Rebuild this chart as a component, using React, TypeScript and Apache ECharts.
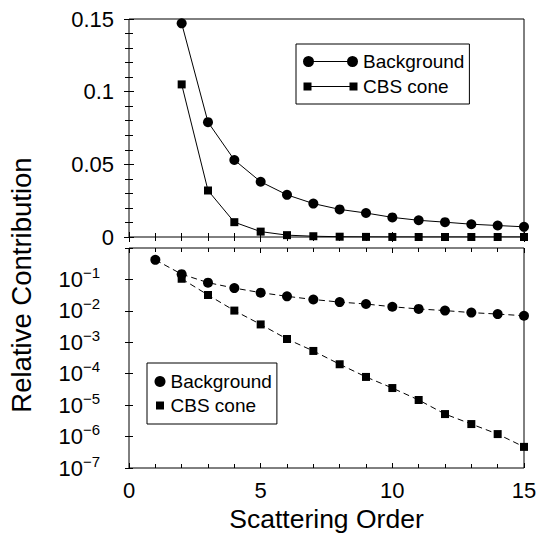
import React, { useEffect, useRef } from "react";
import * as echarts from "echarts";

const FONT = '"Liberation Sans", Arial, Helvetica, sans-serif';

// Scattering order (x values)
const orders = [1, 2, 3, 4, 5, 6, 7, 8, 9, 10, 11, 12, 13, 14, 15];
// Relative contribution of the background
const background = [0.42, 0.147, 0.079, 0.053, 0.038, 0.029, 0.023, 0.019, 0.0165, 0.0135, 0.0115, 0.0102, 0.0088, 0.0079, 0.007];
// Relative contribution of the CBS cone (no value at order 1)
const cbsCone = [null, 0.105, 0.032, 0.0102, 0.0037, 0.00127, 0.00053, 0.0002, 0.000079, 0.000035, 0.0000146, 0.0000052, 0.0000025, 0.0000012, 0.00000047];
// First order shown in the linear (upper) panel
const linearFirstOrder = 2;
// Tick labels
const xTickLabels = ["0", "5", "10", "15"];
const seriesNames = ["Background", "CBS cone"];

const ICON_BG_LINE =
  "path://M0,5.5A5.5,5.5 0 1 1 11,5.5A5.5,5.5 0 1 1 0,5.5Z M44,5.5A5.5,5.5 0 1 1 55,5.5A5.5,5.5 0 1 1 44,5.5Z M5.5,5H49.5V6H5.5Z";
const ICON_CBS_LINE =
  "path://M0,0M55,11M0.5,1.5H8.5V9.5H0.5Z M46.5,1.5H54.5V9.5H46.5Z M8.5,5H46.5V6H8.5Z";
const ICON_SQUARE = "path://M0,0M11,11M1.5,1.5H9.5V9.5H1.5Z";

function pairs(values: (number | null)[], fromOrder: number) {
  const out: [number, number][] = [];
  orders.forEach((x, i) => {
    const v = values[i];
    if (v != null && x >= fromOrder) out.push([x, v]);
  });
  return out;
}

export default function App() {
  const ref = useRef<HTMLDivElement>(null);
  useEffect(() => {
    document.body.style.margin = "0";
    if (!ref.current) return;
    const chart = echarts.init(ref.current, null, { renderer: "svg" });

    const tickCommon = { inside: true, length: 5, lineStyle: { color: "#000", width: 1 } };
    const minorCommon = { show: true, splitNumber: 5, length: 4, lineStyle: { color: "#000", width: 1 } };

    const xBase = (gridIndex: number, position: "bottom" | "top", labels: boolean) => ({
      type: "value",
      gridIndex,
      position,
      min: 0,
      max: 15,
      interval: 5,
      axisLine: { show: false },
      axisTick: tickCommon,
      minorTick: minorCommon,
      splitLine: { show: false },
      minorSplitLine: { show: false },
      axisLabel: labels
        ? {
            show: true,
            margin: 11,
            fontSize: 22,
            color: "#000",
            fontFamily: FONT,
            formatter: (v: number) => (xTickLabels.includes(String(v)) ? String(v) : ""),
          }
        : { show: false },
    });

    const yLin = (position: "left" | "right", labels: boolean) => ({
      type: "value",
      gridIndex: 0,
      position,
      min: 0,
      max: 0.15,
      interval: 0.05,
      axisLine: { show: false },
      axisTick: tickCommon,
      minorTick: minorCommon,
      splitLine: { show: false },
      minorSplitLine: { show: false },
      axisLabel: labels
        ? { show: true, margin: 15, fontSize: 22, color: "#000", fontFamily: FONT }
        : { show: false },
    });

    const yLog = (position: "left" | "right", labels: boolean) => ({
      type: "log",
      logBase: 10,
      gridIndex: 1,
      position,
      min: 1e-7,
      max: 1,
      splitNumber: 7,
      axisLine: { show: false },
      axisTick: { ...tickCommon, length: 4 },
      minorTick: { show: false },
      splitLine: { show: false },
      axisLabel: labels
        ? {
            show: true,
            margin: 29,
            color: "#000",
            fontFamily: FONT,
            formatter: (v: number) => {
              const e = Math.round(Math.log10(v));
              if (e >= 0) return "";
              return `{b|10}{s|\u2212${-e}}`;
            },
            rich: {
              b: { fontSize: 22, fontFamily: FONT, color: "#000", lineHeight: 22, verticalAlign: "middle" },
              s: { fontSize: 15, fontFamily: FONT, color: "#000", lineHeight: 15, padding: [0, 0, 14, 0], verticalAlign: "middle" },
            },
          }
        : { show: false },
    });

    const option: any = {
      animation: false,
      backgroundColor: "#fff",
      textStyle: { fontFamily: FONT },
      grid: [
        { left: 129, top: 19, width: 395, height: 218, show: true, borderColor: "#000", borderWidth: 1, backgroundColor: "transparent" },
        { left: 129, top: 248, width: 395, height: 220, show: true, borderColor: "#000", borderWidth: 1, backgroundColor: "transparent" },
      ],
      xAxis: [
        xBase(0, "bottom", false),
        xBase(0, "top", false),
        {
          ...xBase(1, "bottom", true),
          name: "Scattering Order",
          nameLocation: "middle",
          nameGap: 37,
          nameTextStyle: { fontSize: 26.5, color: "#000", fontFamily: FONT },
        },
        xBase(1, "top", false),
      ],
      yAxis: [yLin("left", true), yLin("right", false), yLog("left", true), yLog("right", false)],
      legend: [
        {
          orient: "vertical",
          left: 296,
          top: 44,
          padding: [7.5, 5, 7.5, 7],
          itemGap: 5,
          itemWidth: 55,
          itemHeight: 11,
          borderColor: "#000",
          borderWidth: 1,
          borderRadius: 0,
          selectedMode: false,
          itemStyle: { color: "#000", borderWidth: 0 },
          textStyle: { fontSize: 19, color: "#000", fontFamily: FONT, lineHeight: 20 },
          data: [
            { name: seriesNames[0], icon: ICON_BG_LINE },
            { name: seriesNames[1], icon: ICON_CBS_LINE },
          ],
        },
        {
          orient: "vertical",
          left: 147,
          top: 363,
          padding: [8.5, 5, 8.5, 7.5],
          itemGap: 4,
          itemWidth: 11,
          itemHeight: 11,
          borderColor: "#000",
          borderWidth: 1,
          borderRadius: 0,
          selectedMode: false,
          itemStyle: { color: "#000", borderWidth: 0 },
          textStyle: { fontSize: 19, color: "#000", fontFamily: FONT, lineHeight: 20 },
          data: [
            { name: seriesNames[0], icon: "circle" },
            { name: seriesNames[1], icon: ICON_SQUARE },
          ],
        },
      ],
      graphic: [
        {
          type: "text",
          x: 21,
          y: 285,
          rotation: Math.PI / 2,
          style: {
            text: "Relative Contribution",
            fontSize: 27.5,
            fontFamily: FONT,
            fill: "#000",
            align: "center",
            verticalAlign: "middle",
          },
        },
      ],
      series: [
        {
          name: seriesNames[0],
          type: "line",
          xAxisIndex: 0,
          yAxisIndex: 0,
          data: pairs(background, linearFirstOrder),
          symbol: "circle",
          symbolSize: 10,
          showAllSymbol: true,
          itemStyle: { color: "#000" },
          lineStyle: { color: "#000", width: 1 },
        },
        {
          name: seriesNames[1],
          type: "line",
          xAxisIndex: 0,
          yAxisIndex: 0,
          data: pairs(cbsCone, linearFirstOrder),
          symbol: "rect",
          symbolSize: 8,
          showAllSymbol: true,
          itemStyle: { color: "#000" },
          lineStyle: { color: "#000", width: 1 },
        },
        {
          name: seriesNames[0],
          type: "line",
          xAxisIndex: 2,
          yAxisIndex: 2,
          data: pairs(background, 1),
          symbol: "circle",
          symbolSize: 10,
          showAllSymbol: true,
          itemStyle: { color: "#000" },
          lineStyle: { color: "#000", width: 1, type: [6, 4] },
        },
        {
          name: seriesNames[1],
          type: "line",
          xAxisIndex: 2,
          yAxisIndex: 2,
          data: pairs(cbsCone, 1),
          symbol: "rect",
          symbolSize: 8,
          showAllSymbol: true,
          itemStyle: { color: "#000" },
          lineStyle: { color: "#000", width: 1, type: [6, 4] },
        },
      ],
    };

    chart.setOption(option);
    return () => chart.dispose();
  }, []);

  return <div ref={ref} style={{ width: 540, height: 533 }} />;
}
